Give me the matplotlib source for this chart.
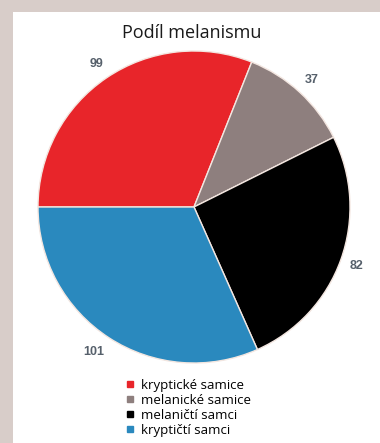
import matplotlib.pyplot as plt
from matplotlib.lines import Line2D
from matplotlib.patches import Rectangle

# počty jedinců podle zbarvení a pohlaví
kategorie = ['kryptické samice', 'melanické samice', 'melaničtí samci', 'kryptičtí samci']
pocty = [99, 37, 82, 101]
barvy = ['#e8252a', '#8e7f7e', '#000000', '#2a89be']

W, H = 380, 443
fig = plt.figure(figsize=(W / 100, H / 100), dpi=100)
fig.patch.set_facecolor('#d8cdc9')

# bílý panel
fig.add_artist(Rectangle((13 / W, 0), 1 - 13 / W, 1 - 12 / H,
                         transform=fig.transFigure, facecolor='white',
                         edgecolor='none', zorder=0))

cx, cy, r = 194, 207, 156
ax = fig.add_axes([(cx - r) / W, (H - cy - r) / H, 2 * r / W, 2 * r / H])
wedges, texts = ax.pie(pocty, labels=[str(p) for p in pocty], colors=barvy,
                       startangle=180, counterclock=False, labeldistance=1.11,
                       wedgeprops=dict(edgecolor='#f3e6e0', linewidth=1.0),
                       textprops=dict(fontsize=9, color='#56606b',
                                      fontweight='bold',
                                      family='Liberation Sans'))
for t in texts:
    t.set_ha('center')
texts[3].set_position((texts[3].get_position()[0] - 0.04,
                       texts[3].get_position()[1]))
ax.set_xlim(-1, 1)
ax.set_ylim(-1, 1)
ax.axis('off')

fig.text(192 / W, 1 - 33 / H, 'Podíl melanismu', ha='center', va='center',
         fontsize=13, family='Open Sans', color='#1a1a1a')

handles = [Line2D([], [], marker='s', linestyle='none', markersize=5,
                  markerfacecolor=c, markeredgecolor=c) for c in barvy]
fig.legend(handles, kategorie, loc='upper left',
           bbox_to_anchor=(119 / W, 1 - 372 / H), frameon=False,
           prop=dict(family='Open Sans', size=9.5), handlelength=0.7,
           handletextpad=0.5, labelspacing=0.16, borderpad=0)

fig.savefig('out.png', dpi=100)
